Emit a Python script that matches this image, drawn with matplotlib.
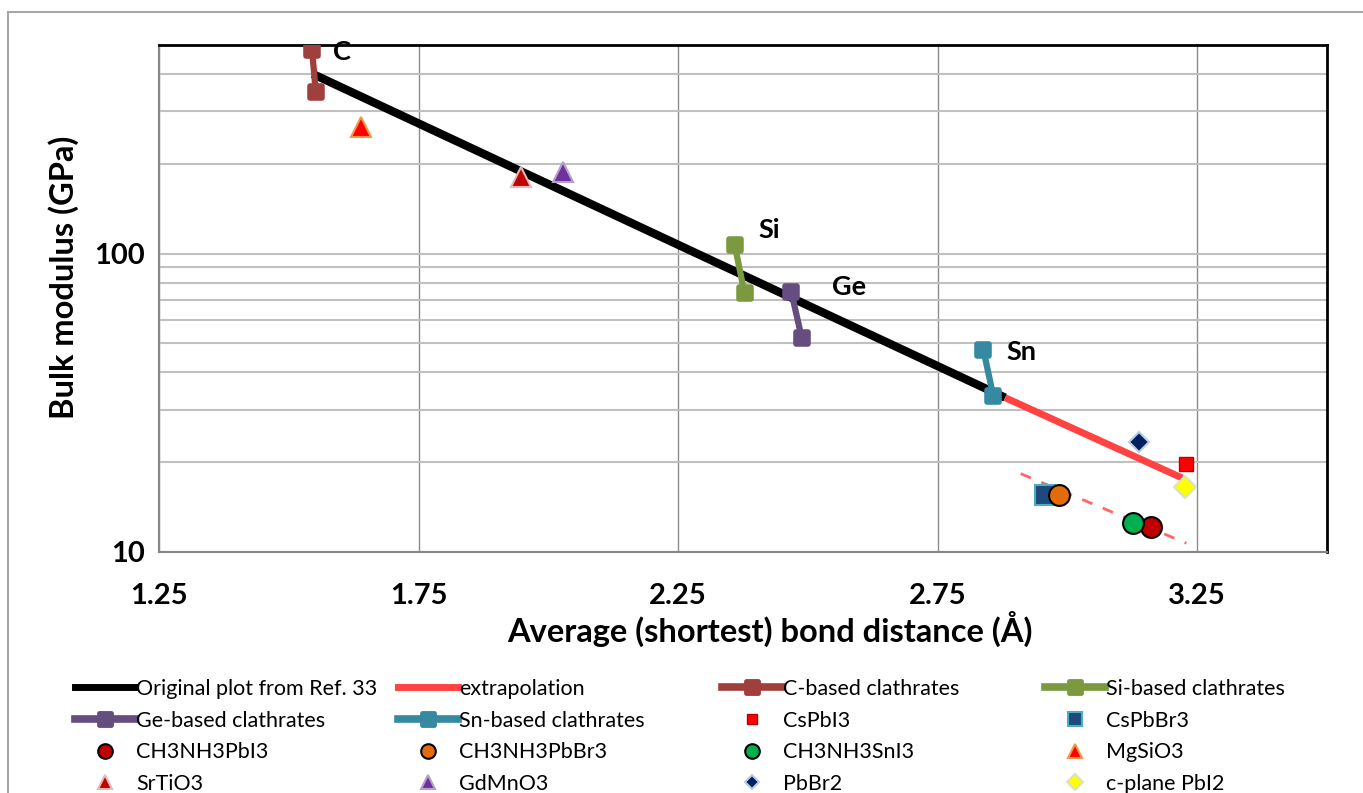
import matplotlib
matplotlib.use('Agg')
import matplotlib.pyplot as plt
from matplotlib.lines import Line2D
from matplotlib.markers import MarkerStyle
from matplotlib.patches import Rectangle
from matplotlib.ticker import FixedLocator, NullFormatter

plt.rcParams['font.family'] = ['Lato', 'DejaVu Sans']

# original trend line (Ref. 33) and its extrapolation
orig_x = [1.546, 2.880]
orig_y = [400, 32.9]
extra_x = [2.880, 3.221]
extra_y = [32.9, 17.7]
# dashed guide through the hybrid perovskites
guide_x = [2.910, 3.229]
guide_y = [18.3, 10.7]

# clathrates (two points each)
c_x = [1.545, 1.552]
c_y = [480, 347]
si_x = [2.359, 2.378]
si_y = [107, 73.5]
ge_x = [2.468, 2.488]
ge_y = [74.5, 52.3]
sn_x = [2.838, 2.857]
sn_y = [47.7, 33.4]

# single compounds: (x, y)
cspbi3 = (3.229, 19.7)
cspbbr3 = (2.957, 15.5)
mapbi3 = (3.160, 12.1)
mapbbr3 = (2.984, 15.5)
masni3 = (3.127, 12.5)
mgsio3 = (1.639, 265)
srtio3 = (1.947, 181)
gdmno3 = (2.028, 188)
pbbr2 = (3.138, 23.4)
pbi2 = (3.227, 16.5)

fig = plt.figure(figsize=(13.63, 7.93), dpi=100)
ax = fig.add_axes([159 / 1363, 1 - 552 / 793, (1327 - 159) / 1363, (552 - 45) / 793])

# outer chart frame
fig.patches.append(Rectangle((8 / 1363, -0.05), 1.2, 1.05 - 12 / 793, transform=fig.transFigure,
                             fill=False, edgecolor='#A6A6A6', lw=1.5, clip_on=False))

ax.set_yscale('log')
ax.set_xlim(1.25, 3.5)
ax.set_ylim(10, 500)

ax.yaxis.set_major_locator(FixedLocator([10, 100]))
ax.yaxis.set_minor_locator(FixedLocator([20, 30, 40, 50, 60, 70, 80, 90, 200, 300, 400]))
ax.yaxis.set_minor_formatter(NullFormatter())
ax.set_yticklabels(['10', '100'])
ax.set_xticks([1.25, 1.75, 2.25, 2.75, 3.25])
ax.set_xticklabels(['1.25', '1.75', '2.25', '2.75', '3.25'])
ax.tick_params(axis='both', which='both', length=0, labelsize=21, pad=10)
for lab in ax.get_xticklabels() + ax.get_yticklabels():
    lab.set_fontweight('bold')
ax.tick_params(axis='x', pad=22)

ax.grid(True, axis='y', which='both', color='#C0C0C0', lw=1.5)
ax.grid(True, axis='x', which='major', color='#8C8C8C', lw=1)
ax.set_axisbelow(True)
for s in ['left', 'bottom']:
    ax.spines[s].set_color('#868686')
    ax.spines[s].set_linewidth(1.5)
for s in ['top', 'right']:
    ax.spines[s].set_color('black')
    ax.spines[s].set_linewidth(2)

ax.set_xlabel('Average (shortest) bond distance (Å)', fontsize=23.5, fontweight='bold', labelpad=2)
ax.set_ylabel('Bulk modulus (GPa)', fontsize=23.5, fontweight='bold', labelpad=11)
ax.xaxis.label.set_x(0.523)
ax.yaxis.label.set_y(0.541)

ax.plot(orig_x, orig_y, color='black', lw=6, solid_capstyle='butt', zorder=3)
ax.plot(extra_x, extra_y, color='#FF4343', lw=5, solid_capstyle='butt', zorder=3)
ax.plot(guide_x, guide_y, color='#FF6666', lw=2, dashes=(4, 4), zorder=3)

rsq = MarkerStyle('s', joinstyle='round')
clath = [
    (c_x, c_y, '#A0403C', 'C-based clathrates'),
    (si_x, si_y, '#7B9A3F', 'Si-based clathrates'),
    (ge_x, ge_y, '#654D80', 'Ge-based clathrates'),
    (sn_x, sn_y, '#3589A0', 'Sn-based clathrates'),
]
for xs, ys, col, lab in clath:
    ax.plot(xs, ys, color=col, lw=4.5, marker=rsq, ms=8.5, mfc=col, mec=col, mew=4,
            solid_capstyle='round', zorder=4)

for txt, x, y in [('C', 1.602, 472), ('Si', 2.426, 120), ('Ge', 2.580, 77.4), ('Sn', 2.911, 46.9)]:
    ax.text(x, y, txt, fontsize=19.5, fontweight='bold', ha='center', va='center')

points = [
    (cspbi3, 's', '#FF0000', '#C00000', 1.0, 10, 'CsPbI3'),
    (cspbbr3, 's', '#1F497D', '#4BACC6', 1.5, 15, 'CsPbBr3'),
    (mapbi3, 'o', '#C00000', 'black', 1.5, 15, 'CH3NH3PbI3'),
    (mapbbr3, 'o', '#E36C09', 'black', 1.5, 15, 'CH3NH3PbBr3'),
    (masni3, 'o', '#00B050', 'black', 1.5, 15, 'CH3NH3SnI3'),
    (mgsio3, '^', '#FF0000', '#F79646', 1.5, 14, 'MgSiO3'),
    (srtio3, '^', '#C00000', '#E6B9B8', 1.5, 14, 'SrTiO3'),
    (gdmno3, '^', '#7030A0', '#B3A2C7', 1.5, 14, 'GdMnO3'),
    (pbbr2, 'D', '#002060', '#B9CDE5', 1.5, 10, 'PbBr2'),
    (pbi2, 'D', '#FFFF00', '#D7E4BD', 1.5, 11, 'c-plane PbI2'),
]
for (x, y), m, fc, ec, ew, ms, lab in points:
    ax.plot([x], [y], linestyle='none', marker=m, ms=ms, mfc=fc, mec=ec, mew=ew, zorder=5)

# legend handles
h = {}
h['Original plot from Ref. 33'] = Line2D([], [], color='black', lw=5)
h['extrapolation'] = Line2D([], [], color='#FF4343', lw=5)
for xs, ys, col, lab in clath:
    h[lab] = Line2D([], [], color=col, lw=5.5, marker=rsq, ms=8, mfc=col, mec=col, mew=3.5)
for (x, y), m, fc, ec, ew, ms, lab in points:
    h[lab] = Line2D([], [], linestyle='none', marker=m, ms=ms * 0.7, mfc=fc, mec=ec, mew=ew)

columns = [
    ['Original plot from Ref. 33', 'Ge-based clathrates', 'CH3NH3PbI3', 'SrTiO3'],
    ['extrapolation', 'Sn-based clathrates', 'CH3NH3PbBr3', 'GdMnO3'],
    ['C-based clathrates', 'CsPbI3', 'CH3NH3SnI3', 'PbBr2'],
    ['Si-based clathrates', 'CsPbBr3', 'MgSiO3', 'c-plane PbI2'],
]
col_x = [75, 398, 722, 1045]
for cx, labels in zip(col_x, columns):
    fig.legend([h[l] for l in labels], labels, loc='upper left',
               bbox_to_anchor=(cx / 1363, 1 - 679 / 793), frameon=False, fontsize=15.5,
               handlelength=2.8, handletextpad=0.05, labelspacing=0.54, borderpad=0,
               borderaxespad=0, numpoints=1)

fig.savefig('out.png', dpi=100)
